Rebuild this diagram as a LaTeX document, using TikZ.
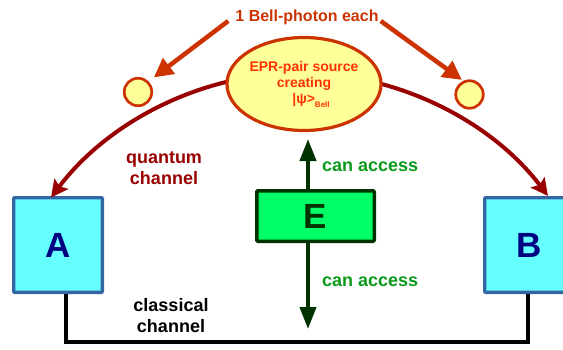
\documentclass[tikz,border=0pt]{standalone}
\usepackage{fontspec}
\setmainfont{Liberation Sans}
\usetikzlibrary{arrows.meta,shapes.geometric}
\definecolor{cyanbox}{HTML}{66FFFF}
\definecolor{boxblue}{HTML}{3465A4}
\definecolor{navytxt}{HTML}{000080}
\definecolor{egreen}{HTML}{00FF66}
\definecolor{dgreen}{HTML}{003300}
\definecolor{txtgreen}{HTML}{0A9A1A}
\definecolor{qred}{HTML}{990000}
\definecolor{orred}{HTML}{CC3300}
\definecolor{eprtxt}{HTML}{FF3300}
\definecolor{lyellow}{HTML}{FFFF99}
\begin{document}
\begin{tikzpicture}[x=1pt,y=-1pt,
  party/.style={draw=boxblue, line width=3.3pt, fill=cyanbox, minimum width=88.7pt,
    minimum height=94.7pt, inner sep=0pt, rounded corners=1pt, text=navytxt,
    font=\fontsize{35}{40}\selectfont\bfseries},
  ebox/.style={draw=dgreen, line width=3.5pt, fill=egreen, minimum width=117.5pt,
    minimum height=50.5pt, inner sep=0pt, rounded corners=1pt, text=dgreen,
    font=\fontsize{35}{40}\selectfont\bfseries},
  eprnode/.style={ellipse, draw=orred, line width=3.2pt, fill=lyellow, minimum width=139pt,
    minimum height=93pt, inner sep=0pt, text=eprtxt, align=center,
    font=\fontsize{14}{16}\selectfont\bfseries},
  photon/.style={circle, draw=orred, line width=2.7pt, fill=lyellow, minimum size=27.5pt, inner sep=0pt},
  lab/.style={inner sep=0pt, font=\fontsize{18}{21}\selectfont\bfseries},
  orarrow/.style={draw=orred, line width=4.5pt, -{Triangle[length=19pt,width=19pt]}},
  qarrow/.style={draw=qred, line width=4pt, -{Stealth[length=17pt,width=17pt,inset=3pt]}},
  earrow/.style={draw=dgreen, line width=4pt, -{Triangle[length=22pt,width=16pt]}},
  wire/.style={draw=black, line width=3.5pt}
]
\useasboundingbox (0,0) rectangle (563,349);
\clip (0,0) rectangle (563,349);

% parties
\node[party] (A) at (58,245) {A};
\node[party] (B) at (529,245) {B};

% classical channel wire
\coordinate (wl) at (66,342);
\draw[wire] (A.south -| wl) -- (wl) -| ([xshift=-1]B.south);

% quantum channel arcs (behind the source)
\coordinate (qs1) at (257.3,76);
\coordinate (qs2) at (342.7,76);
\draw[qarrow] (qs1) .. controls (175.4,87.5) and (101,131.3) .. ([shift={(-7,1.5)}]A.north);
\draw[qarrow] (qs2) .. controls (424.6,87.5) and (499,131.3) .. ([shift={(19,0)}]B.north);

% EPR source
\node[eprnode] (epr) at (304,84) {EPR-pair source\\creating\\\hspace*{14pt}|ψ>\raisebox{-4pt}{\fontsize{8}{8}\selectfont Bell}};

% photons
\node[photon] (p1) at (138,92) {};
\node[photon] (p2) at (469.5,94.5) {};

% label above
\node[lab, text=orred, font=\fontsize{16}{19}\selectfont\bfseries] (bell) at (307,17) {1 Bell-photon each};
\draw[orarrow, shorten >=6.5pt] ([shift={(-7,4)}]bell.west) -- (p1.45);
\draw[orarrow, shorten >=1.5pt] ([shift={(2,4)}]bell.east) -- (p2.115);

% Eve
\node[ebox] (E) at (315.5,216) {E};
\coordinate (eup) at (308,139);
\coordinate (edn) at (308,329);
\draw[earrow] ([xshift=-7.5]E.north) -- (eup);
\draw[earrow] ([xshift=-7.5]E.south) -- (edn);

% labels
\node[lab, text=qred, align=center] (qc) at (164,168) {quantum\\channel};
\node[lab, text=txtgreen, anchor=west] (ca1) at (322,167) {can access};
\node[lab, text=txtgreen, anchor=west] (ca2) at (322,282) {can access};
\node[lab, text=black, align=center] (cc) at (171,316) {classical\\channel};
\end{tikzpicture}
\end{document}
